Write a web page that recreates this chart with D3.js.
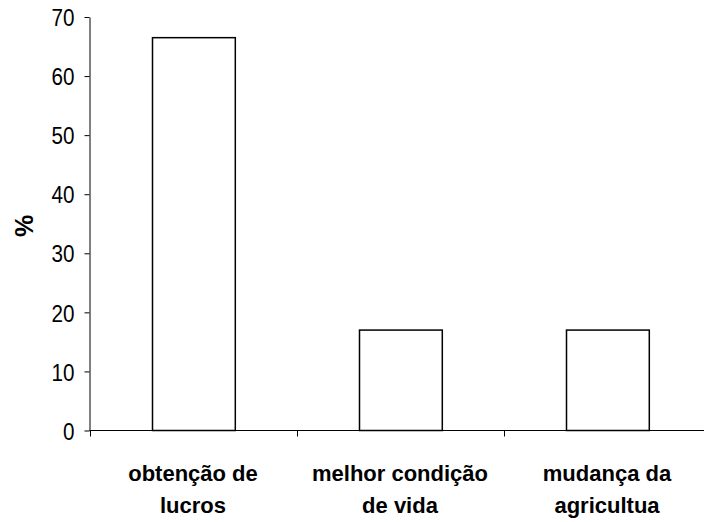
<!DOCTYPE html>
<html>
<head>
<meta charset="utf-8">
<script src="https://cdn.jsdelivr.net/npm/d3@7"></script>
<style>
  html, body { margin: 0; padding: 0; background: #fff; }
  svg { display: block; font-family: "Liberation Sans", Arial, sans-serif; }
</style>
</head>
<body>
<svg id="chart" width="704" height="522"></svg>
<script>
// Motivos (percentual das respostas)
const categories = [["obtenção de", "lucros"], ["melhor condição", "de vida"], ["mudança da", "agricultua"]];
const values = [66.5, 17, 17];
const yTicks = [0, 10, 20, 30, 40, 50, 60, 70];

const svg = d3.select("#chart");
const plotLeft = 89.5, plotBottom = 430.5, plotTop = 17;
const step = 207;

const x = d3.scaleBand()
  .domain(d3.range(categories.length))
  .range([plotLeft, plotLeft + step * categories.length])
  .padding(0);

const y = d3.scaleLinear().domain([0, 70]).range([plotBottom, plotTop]);

// Y axis (tick numbers drawn slightly condensed)
const squeeze = 0.86;
const yAxis = svg.append("g")
  .attr("transform", `translate(${plotLeft},0)`)
  .call(d3.axisLeft(y).tickValues(yTicks).tickSize(5).tickPadding(10).tickSizeOuter(0));
yAxis.select(".domain").attr("stroke", "#000");
yAxis.selectAll(".tick line").attr("stroke", "#000");
yAxis.selectAll(".tick text")
  .attr("font-size", 24)
  .attr("font-family", "Liberation Sans, Arial, sans-serif")
  .attr("fill", "#000")
  .attr("x", -15 / squeeze)
  .attr("transform", `scale(${squeeze},1)`)
  .attr("dy", "0.36em");

// Bars
const barW = x.bandwidth() * 0.4;
svg.append("g").selectAll("rect")
  .data(values)
  .join("rect")
  .attr("x", (d, i) => Math.round(x(i) + (x.bandwidth() - barW) / 2) + 0.5)
  .attr("y", d => y(d))
  .attr("width", barW)
  .attr("height", d => plotBottom - y(d))
  .attr("fill", "#fff")
  .attr("stroke", "#000")
  .attr("stroke-width", 1.5);

// X axis line and category boundary ticks
svg.append("line")
  .attr("x1", plotLeft).attr("x2", 704)
  .attr("y1", plotBottom).attr("y2", plotBottom)
  .attr("stroke", "#000");
svg.append("g").selectAll("line")
  .data(d3.range(categories.length + 1))
  .join("line")
  .attr("x1", i => Math.round(plotLeft + step * i) + 0.5)
  .attr("x2", i => Math.round(plotLeft + step * i) + 0.5)
  .attr("y1", plotBottom)
  .attr("y2", plotBottom + 6)
  .attr("stroke", "#000");

// Category labels
const labels = svg.append("g").selectAll("text")
  .data(categories)
  .join("text")
  .attr("text-anchor", "middle")
  .attr("font-size", 22)
  .attr("font-weight", "bold")
  .attr("fill", "#000")
  .attr("transform", (d, i) => `translate(${x(i) + x.bandwidth() / 2},481)`);
labels.selectAll("tspan")
  .data(d => d)
  .join("tspan")
  .attr("x", 0)
  .attr("y", (d, j) => j * 32)
  .text(d => d);

// Y axis title
svg.append("text")
  .attr("transform", "translate(33,226) rotate(-90)")
  .attr("text-anchor", "middle")
  .attr("font-size", 25)
  .attr("font-weight", "bold")
  .attr("fill", "#000")
  .text("%");
</script>
</body>
</html>
